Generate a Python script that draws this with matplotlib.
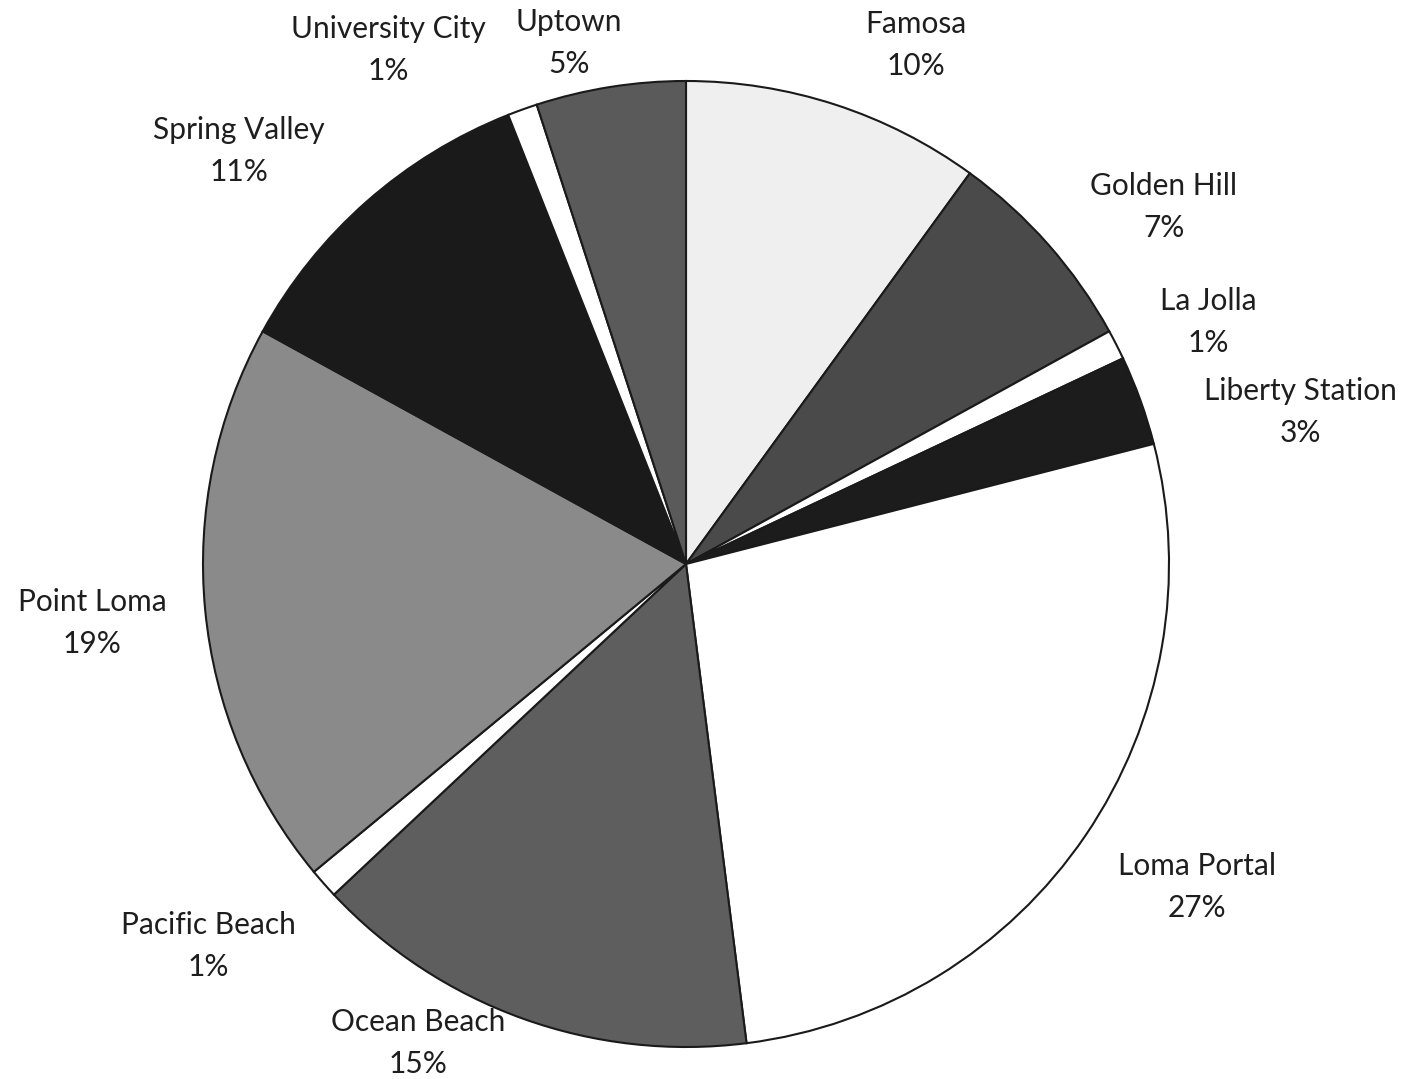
import matplotlib.pyplot as plt

# neighbourhood shares, clockwise from 12 o'clock
areas = ["Famosa", "Golden Hill", "La Jolla", "Liberty Station", "Loma Portal",
         "Ocean Beach", "Pacific Beach", "Point Loma", "Spring Valley",
         "University City", "Uptown"]
shares = [10, 7, 1, 3, 27, 15, 1, 19, 11, 1, 5]

shades = ["#efefef", "#4a4a4a", "#ffffff", "#1c1c1c", "#ffffff", "#5e5e5e",
          "#ffffff", "#8a8a8a", "#1a1a1a", "#ffffff", "#5a5a5a"]

# label centres in pixel coords (x from left, y from top)
label_xy = [(916, 45), (1164, 207), (1208, 322), (1300, 412), (1197, 887),
            (418, 1043), (208, 946), (92, 623), (239, 151), (388, 50), (569, 43)]

W, H = 1407, 1079
fig = plt.figure(figsize=(W / 100, H / 100), dpi=100)
ax = fig.add_axes([0, 0, 1, 1])

ax.pie(shares, colors=shades, startangle=90, counterclock=False,
       center=(686, H - 564), radius=483, frame=True,
       wedgeprops=dict(edgecolor="#1a1a1a", linewidth=1.5))
ax.set_xlim(0, W)
ax.set_ylim(0, H)
ax.set_aspect("equal")
ax.axis("off")

for name, val, (x, y) in zip(areas, shares, label_xy):
    ax.text(x, H - y, f"{name}\n{val}%", ha="center", va="center",
            fontsize=21.5, family="Lato", color="#1e1e1e", linespacing=1.6)

fig.savefig("out.png", dpi=100, facecolor="white")
